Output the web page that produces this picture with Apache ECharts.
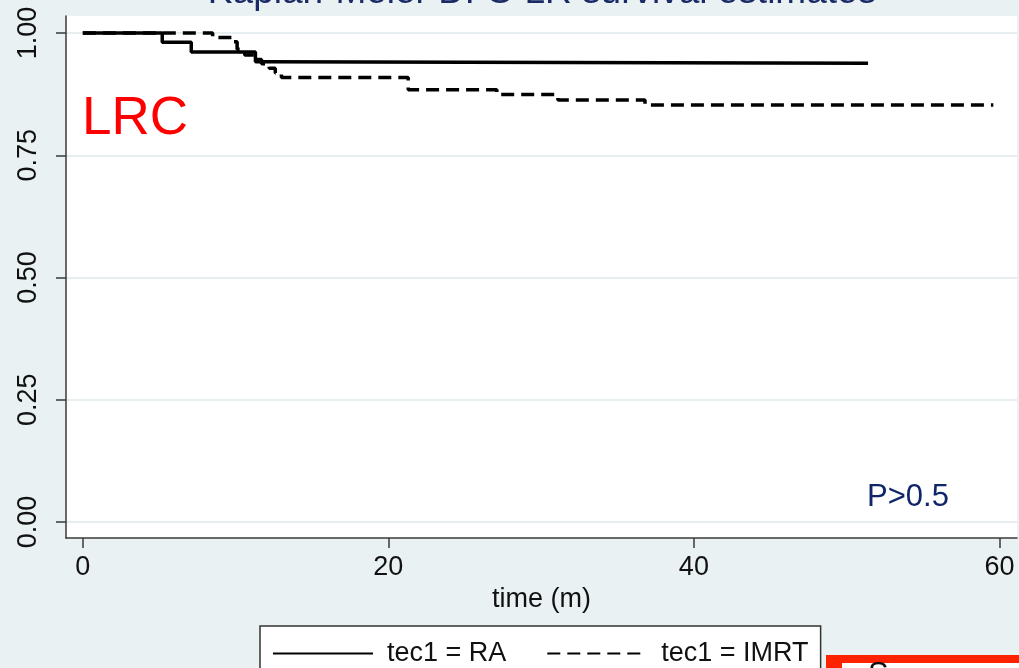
<!DOCTYPE html>
<html>
<head>
<meta charset="utf-8">
<script src="https://cdn.jsdelivr.net/npm/echarts@6/dist/echarts.min.js"></script>
<style>
html,body{margin:0;padding:0;background:#eaf1f3;}
#chart{width:1019px;height:668px;}
</style>
</head>
<body>
<div id="chart"></div>
<script>
// Data
const raTime   = [0, 5.2, 7.1, 11.3, 11.9, 51.4];
const raSurv   = [1, 0.981, 0.961, 0.941, 0.938, 0.938];
const imrtTime = [0, 8.5, 9.8, 10.1, 10.6, 11.3, 11.7, 12.2, 12.6, 13.0, 21.3, 27.1, 31.1, 36.8, 59.6];
const imrtSurv = [1, 0.991, 0.982, 0.967, 0.955, 0.946, 0.937, 0.928, 0.918, 0.909, 0.884, 0.874, 0.863, 0.853, 0.853];
const xTicks = [0, 20, 40, 60];
const yTicks = [0, 0.25, 0.5, 0.75, 1];
const seriesNames = ['tec1 = RA', 'tec1 = IMRT'];
const titleText = 'Kaplan-Meier DFS-LR survival estimates';
const groupLabel = 'LRC';
const pText = 'P>0.5';

const pair = (xs, ys) => xs.map((x, i) => [x, ys[i]]);

const chart = echarts.init(document.getElementById('chart'));
const font = 'Liberation Sans, Arial, sans-serif';
chart.setOption({
  backgroundColor: '#eaf1f3',
  animation: false,
  grid: {left: 66, right: 2, top: 16, bottom: 130, show: true, backgroundColor: '#ffffff', borderWidth: 0},
  xAxis: {
    type: 'value', min: -1.1, max: 61.15,
    axisLine: {show: true, onZero: false, lineStyle: {color: '#3a3a3a', width: 1.5}},
    axisTick: {show: true, inside: false, length: 10, customValues: xTicks, lineStyle: {color: '#3a3a3a', width: 1.5}},
    axisLabel: {customValues: xTicks, fontSize: 27, color: '#111', margin: 16, fontFamily: font},
    splitLine: {show: false},
    name: 'time (m)', nameLocation: 'middle', nameGap: 44,
    nameTextStyle: {fontSize: 27, color: '#111', fontFamily: font}
  },
  yAxis: {
    type: 'value', min: -0.0328, max: 1.0348,
    axisLine: {show: true, onZero: false, lineStyle: {color: '#3a3a3a', width: 1.5}},
    axisTick: {show: true, inside: false, length: 10, customValues: yTicks, lineStyle: {color: '#3a3a3a', width: 1.5}},
    axisLabel: {customValues: yTicks, rotate: 90, fontSize: 27, color: '#111', margin: 24, fontFamily: font,
      formatter: v => v.toFixed(2)},
    splitLine: {show: true, lineStyle: {color: '#e6eef0', width: 2}}
  },
  legend: {
    left: 260, top: 626,
    data: seriesNames,
    itemWidth: 100, itemHeight: 14, itemGap: 40,
    padding: [14, 12, 14, 12],
    itemStyle: {opacity: 0},
    backgroundColor: '#ffffff', borderColor: '#333', borderWidth: 1.5, borderRadius: 0,
    textStyle: {fontSize: 27, color: '#111', fontFamily: font, padding: [0, 0, 0, 9]}
  },
  series: [
    {name: seriesNames[0], type: 'line', step: 'end', symbol: 'none', data: pair(raTime, raSurv),
     lineStyle: {color: '#000', width: 3.5, type: 'solid'}, itemStyle: {color: '#000'}},
    {name: seriesNames[1], type: 'line', step: 'end', symbol: 'none', data: pair(imrtTime, imrtSurv),
     lineStyle: {color: '#000', width: 3.5, type: [13, 7]}, itemStyle: {color: '#000'}}
  ],
  graphic: [
    {type: 'text', x: 542, y: -26, style: {text: titleText, fontSize: 37, fill: '#1a2a66', fontFamily: font, align: 'center'}},
    {type: 'text', x: 82, y: 119, style: {text: groupLabel, fontSize: 53, fill: '#ff0000', fontFamily: font, verticalAlign: 'middle'}},
    {type: 'text', x: 867, y: 497, style: {text: pText, fontSize: 31, fill: '#10266a', fontFamily: font, verticalAlign: 'middle'}},
    {type: 'rect', shape: {x: 826, y: 655, width: 193, height: 13}, style: {fill: '#ff2200'}},
    {type: 'rect', shape: {x: 842, y: 663, width: 177, height: 5}, style: {fill: '#ffffff'}},
    {type: 'text', x: 868, y: 660, style: {text: 'S', fontSize: 31, fill: '#111', fontFamily: font}}
  ]
});
</script>
</body>
</html>
